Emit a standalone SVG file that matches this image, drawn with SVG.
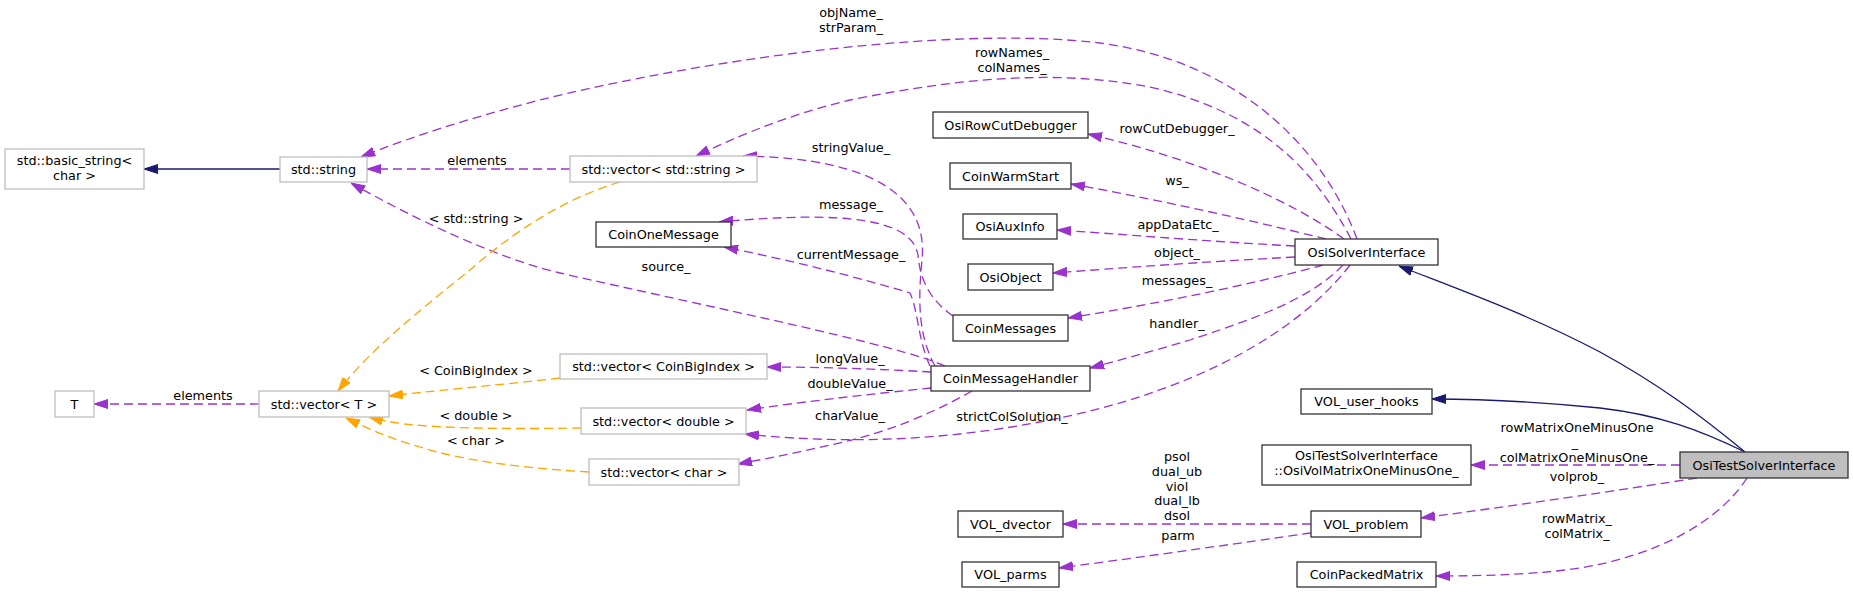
<svg xmlns="http://www.w3.org/2000/svg" width="1853" height="593" viewBox="0 0 1853 593">
<defs>
<style>
text{font-family:"DejaVu Sans","Liberation Sans",sans-serif;font-size:12.8px;fill:#000;text-anchor:middle}
.nb{fill:#fff;stroke:#333;stroke-width:1.3}
.ng{fill:#fff;stroke:#bfbfbf;stroke-width:1.3}
.nf{fill:#bfbfbf;stroke:#333;stroke-width:1.3}
.ep{fill:none;stroke:#9a32cd;stroke-width:1.3;stroke-dasharray:9,5}
.eo{fill:none;stroke:#ffa500;stroke-width:1.3;stroke-dasharray:9,5}
.eb{fill:none;stroke:#191970;stroke-width:1.3}
</style>
<marker id="ap" markerUnits="userSpaceOnUse" viewBox="0 0 14 10" refX="14" refY="5" markerWidth="14" markerHeight="10" orient="auto"><path d="M0,0.5 L14,5 L0,9.5 z" fill="#9a32cd" stroke="#9a32cd" stroke-dasharray="none"/></marker>
<marker id="ao" markerUnits="userSpaceOnUse" viewBox="0 0 14 10" refX="14" refY="5" markerWidth="14" markerHeight="10" orient="auto"><path d="M0,0.5 L14,5 L0,9.5 z" fill="#ffa500" stroke="#ffa500" stroke-dasharray="none"/></marker>
<marker id="ab" markerUnits="userSpaceOnUse" viewBox="0 0 14 10" refX="14" refY="5" markerWidth="14" markerHeight="10" orient="auto"><path d="M0,0.5 L14,5 L0,9.5 z" fill="#191970" stroke="#191970" stroke-dasharray="none"/></marker>
</defs>
<rect width="1853" height="593" fill="#fff"/>
<g id="edges">
<path class="eb" d="M280,169 L144,169" marker-end="url(#ab)"/>
<path class="ep" d="M570,169 L367,169" marker-end="url(#ap)"/>
<path class="ep" d="M1357,239 C1320,140 1230,60 1100,43 C950,25 700,60 540,100 C470,118 410,137 361,157" marker-end="url(#ap)"/>
<text x="851" y="17">objName_</text><text x="851" y="32">strParam_</text>
<path class="ep" d="M1351,239 C1310,160 1250,110 1150,87 C1050,68 950,80 850,100 C800,112 750,130 696,156" marker-end="url(#ap)"/>
<text x="1012" y="57">rowNames_</text><text x="1012" y="72">colNames_</text>
<path class="ep" d="M1344,239 C1290,200 1200,160 1088,134" marker-end="url(#ap)"/>
<text x="1177" y="133">rowCutDebugger_</text>
<path class="ep" d="M1326,239 C1250,220 1150,198 1071,184" marker-end="url(#ap)"/>
<text x="1177" y="185">ws_</text>
<path class="ep" d="M1295,246 C1200,241 1120,234 1057,230" marker-end="url(#ap)"/>
<text x="1178" y="229">appDataEtc_</text>
<path class="ep" d="M1295,257 C1200,262 1120,268 1053,273" marker-end="url(#ap)"/>
<text x="1177" y="257">object_</text>
<path class="ep" d="M1323,265 C1250,285 1150,305 1068,318" marker-end="url(#ap)"/>
<text x="1177" y="285">messages_</text>
<path class="ep" d="M1343,265 C1310,300 1250,320 1190,340 C1150,352 1120,360 1090,368" marker-end="url(#ap)"/>
<text x="1177" y="328">handler_</text>
<path class="ep" d="M1350,265 C1300,330 1200,390 1050,420 C950,440 850,445 745,434" marker-end="url(#ap)"/>
<text x="1012" y="421">strictColSolution_</text>
<path class="ep" d="M935,366 C918,335 918,300 922,260 C928,200 880,158 743,156" marker-end="url(#ap)"/>
<text x="851" y="152">stringValue_</text>
<path class="ep" d="M953,316 C930,300 920,280 918,255 C912,220 850,210 719,222" marker-end="url(#ap)"/>
<text x="851" y="209">message_</text>
<path class="ep" d="M930,366 C918,340 918,310 910,293 C860,278 790,260 724,247" marker-end="url(#ap)"/>
<text x="851" y="259">currentMessage_</text>
<path class="ep" d="M945,366 C900,345 700,305 560,273 C500,259 420,222 351,183" marker-end="url(#ap)"/>
<text x="666" y="271">source_</text>
<path class="eo" d="M620,182 C560,200 510,235 470,270 C420,310 370,350 338,391" marker-end="url(#ao)"/>
<text x="476" y="223">&lt; std::string &gt;</text>
<path class="eo" d="M560,378 C500,385 440,390 389,396" marker-end="url(#ao)"/>
<text x="476" y="375">&lt; CoinBigIndex &gt;</text>
<path class="eo" d="M581,428 C520,429 450,429 405,424 C390,422 380,420 369,417" marker-end="url(#ao)"/>
<text x="476" y="420">&lt; double &gt;</text>
<path class="eo" d="M589,472 C520,468 460,460 420,447 C395,440 375,432 346,418" marker-end="url(#ao)"/>
<text x="476" y="445">&lt; char &gt;</text>
<path class="ep" d="M931,372 C880,369 820,367 767,367" marker-end="url(#ap)"/>
<text x="850" y="363">longValue_</text>
<path class="ep" d="M931,388 C880,393 800,402 747,410" marker-end="url(#ap)"/>
<text x="850" y="388">doubleValue_</text>
<path class="ep" d="M972,391 C930,415 880,435 830,445 C800,452 770,458 738,464" marker-end="url(#ap)"/>
<text x="850" y="420">charValue_</text>
<path class="ep" d="M259,404 L94,404" marker-end="url(#ap)"/>
<text x="203" y="400">elements</text>
<text x="477" y="165">elements</text>
<path class="eb" d="M1745,452 C1700,415 1660,385 1600,352 C1530,315 1460,290 1399,266" marker-end="url(#ab)"/>
<path class="eb" d="M1745,452 C1700,430 1660,415 1600,408 C1540,402 1490,399 1432,399" marker-end="url(#ab)"/>
<path class="ep" d="M1680,465 L1471,465" marker-end="url(#ap)"/>
<text x="1577" y="432">rowMatrixOneMinusOne</text><text x="1575" y="447">_</text><text x="1577" y="462">colMatrixOneMinusOne_</text>
<path class="ep" d="M1697,478 C1620,490 1520,505 1421,518" marker-end="url(#ap)"/>
<text x="1577" y="481">volprob_</text>
<path class="ep" d="M1747,478 C1720,520 1660,555 1580,568 C1540,574 1490,576 1436,576" marker-end="url(#ap)"/>
<text x="1577" y="523">rowMatrix_</text><text x="1577" y="538">colMatrix_</text>
<path class="ep" d="M1311,524 L1063,524" marker-end="url(#ap)"/>
<text x="1177" y="461">psol</text><text x="1177" y="476">dual_ub</text><text x="1177" y="491">viol</text><text x="1177" y="505">dual_lb</text><text x="1177" y="520">dsol</text>
<path class="ep" d="M1311,533 C1240,543 1150,556 1059,568" marker-end="url(#ap)"/>
<text x="1178" y="540">parm</text>
</g>
<g id="n_OsiTestSolverInterface"><rect class="nf" x="1680" y="452" width="168" height="26"/><text x="1764" y="469.5">OsiTestSolverInterface</text></g>
<g id="n_OsiSolverInterface"><rect class="nb" x="1295" y="239" width="143" height="26"/><text x="1366.5" y="256.5">OsiSolverInterface</text></g>
<g id="n_std_string"><rect class="ng" x="280" y="157" width="87" height="25"/><text x="323.5" y="174">std::string</text></g>
<g id="n_basic_string"><rect class="ng" x="5" y="149" width="139" height="40"/><text x="74.5" y="165">std::basic_string&lt;</text><text x="74.5" y="180">char &gt;</text></g>
<g id="n_vector_string"><rect class="ng" x="570" y="156" width="187" height="26"/><text x="663.5" y="173.5">std::vector&lt; std::string &gt;</text></g>
<g id="n_vector_T"><rect class="ng" x="259" y="391" width="130" height="26"/><text x="324" y="408.5">std::vector&lt; T &gt;</text></g>
<g id="n_T"><rect class="ng" x="55" y="391" width="39" height="26"/><text x="74.5" y="408.5">T</text></g>
<g id="n_OsiRowCutDebugger"><rect class="nb" x="933" y="112" width="155" height="26"/><text x="1010.5" y="129.5">OsiRowCutDebugger</text></g>
<g id="n_CoinWarmStart"><rect class="nb" x="950" y="163" width="121" height="26"/><text x="1010.5" y="180.5">CoinWarmStart</text></g>
<g id="n_OsiAuxInfo"><rect class="nb" x="963" y="214" width="94" height="25"/><text x="1010" y="231">OsiAuxInfo</text></g>
<g id="n_OsiObject"><rect class="nb" x="968" y="264" width="85" height="26"/><text x="1010.5" y="281.5">OsiObject</text></g>
<g id="n_CoinMessages"><rect class="nb" x="953" y="315" width="115" height="26"/><text x="1010.5" y="332.5">CoinMessages</text></g>
<g id="n_CoinMessageHandler"><rect class="nb" x="931" y="366" width="159" height="25"/><text x="1010.5" y="383">CoinMessageHandler</text></g>
<g id="n_CoinOneMessage"><rect class="nb" x="596" y="222" width="135" height="25"/><text x="663.5" y="239">CoinOneMessage</text></g>
<g id="n_vector_CoinBigIndex"><rect class="ng" x="560" y="354" width="207" height="25"/><text x="663.5" y="371">std::vector&lt; CoinBigIndex &gt;</text></g>
<g id="n_vector_double"><rect class="ng" x="581" y="408" width="165" height="26"/><text x="663.5" y="425.5">std::vector&lt; double &gt;</text></g>
<g id="n_vector_char"><rect class="ng" x="589" y="459" width="150" height="26"/><text x="664" y="476.5">std::vector&lt; char &gt;</text></g>
<g id="n_VOL_user_hooks"><rect class="nb" x="1301" y="389" width="131" height="25"/><text x="1366.5" y="406">VOL_user_hooks</text></g>
<g id="n_OsiVolMatrixOneMinusOne"><rect class="nb" x="1262" y="445" width="209" height="40"/><text x="1366.5" y="460">OsiTestSolverInterface</text><text x="1366.5" y="475">::OsiVolMatrixOneMinusOne_</text></g>
<g id="n_VOL_dvector"><rect class="nb" x="958" y="511" width="105" height="26"/><text x="1010.5" y="528.5">VOL_dvector</text></g>
<g id="n_VOL_problem"><rect class="nb" x="1311" y="511" width="110" height="26"/><text x="1366" y="528.5">VOL_problem</text></g>
<g id="n_VOL_parms"><rect class="nb" x="962" y="562" width="97" height="25"/><text x="1010.5" y="579">VOL_parms</text></g>
<g id="n_CoinPackedMatrix"><rect class="nb" x="1297" y="562" width="139" height="25"/><text x="1366.5" y="579">CoinPackedMatrix</text></g>
</svg>
